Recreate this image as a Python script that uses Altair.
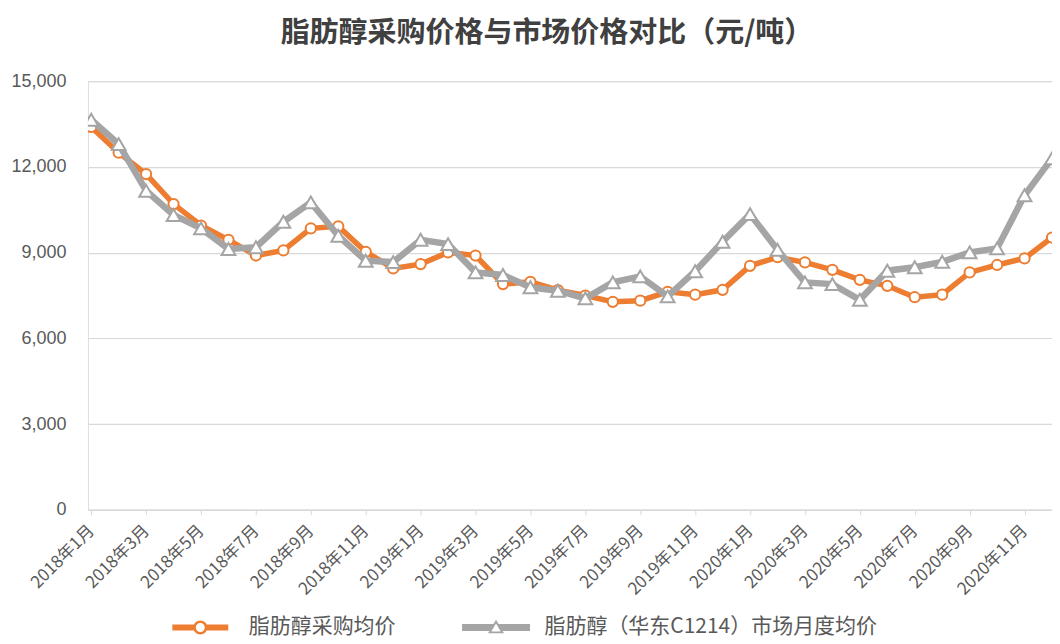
import altair as alt
import pandas as pd

months = [
    "2018年1月", "2018年2月", "2018年3月", "2018年4月", "2018年5月", "2018年6月",
    "2018年7月", "2018年8月", "2018年9月", "2018年10月", "2018年11月", "2018年12月",
    "2019年1月", "2019年2月", "2019年3月", "2019年4月", "2019年5月", "2019年6月",
    "2019年7月", "2019年8月", "2019年9月", "2019年10月", "2019年11月", "2019年12月",
    "2020年1月", "2020年2月", "2020年3月", "2020年4月", "2020年5月", "2020年6月",
    "2020年7月", "2020年8月", "2020年9月", "2020年10月", "2020年11月", "2020年12月",
]
purchase = [
    13400, 12500, 11750, 10700, 9950, 9450, 8900, 9080, 9850, 9920, 9030, 8450,
    8600, 9010, 8900, 7900, 7980, 7690, 7500, 7280, 7320, 7630, 7530, 7700,
    8540, 8840, 8660, 8400, 8050, 7840, 7440, 7530, 8310, 8570, 8800, 9530,
]
market = [
    13650, 12800, 11170, 10320, 9850, 9130, 9190, 10080, 10760, 9590, 8720, 8670,
    9450, 9300, 8310, 8220, 7790, 7670, 7400, 7960, 8170, 7470, 8350, 9380,
    10350, 9100, 7960, 7900, 7350, 8370, 8490, 8680, 9010, 9150, 11010, 12300,
]
series_names = ["脂肪醇采购均价", "脂肪醇（华东C1214）市场月度均价"]
colors = ["#ED7D31", "#A5A5A5"]
y_ticks = [0, 3000, 6000, 9000, 12000, 15000]
title_text = "脂肪醇采购价格与市场价格对比（元/吨）"

rows = []
for i, m in enumerate(months):
    rows.append({"idx": i, "month": m, "series": series_names[0], "value": purchase[i]})
    rows.append({"idx": i, "month": m, "series": series_names[1], "value": market[i]})
df = pd.DataFrame(rows)

label_expr = "[" + ",".join("'" + m + "'" for m in months) + "][datum.value]"

CJK = "Noto Sans CJK SC"
GRID = "#D9D9D9"
TXT = "#595959"

# legend symbols: line with open circle / open triangle (custom paths)
P_circle = ("M-2.8,-0.3L-0.6,-0.3L-0.6,0.3L-2.8,0.3Z "
            "M0.6,-0.3L2.8,-0.3L2.8,0.3L0.6,0.3Z "
            "M0,-0.7A0.7,0.7,0,1,1,0,0.7A0.7,0.7,0,1,1,0,-0.7Z "
            "M0,-0.45A0.45,0.45,0,1,0,0,0.45A0.45,0.45,0,1,0,0,-0.45Z")
P_tri = ("M-3.4,-0.35L-0.23,-0.35L-0.63,0.35L-3.4,0.35Z "
         "M3.4,-0.35L3.4,0.35L0.63,0.35L0.23,-0.35Z "
         "M0,-0.78L0.8,0.58L-0.8,0.58Z "
         "M0,-0.4L-0.47,0.4L0.47,0.4Z")

x_enc = alt.X(
    "idx:Q",
    scale=alt.Scale(domain=[-0.12, 35], nice=False, zero=False),
    axis=alt.Axis(
        values=list(range(0, 36, 2)),
        labelExpr=label_expr,
        labelAngle=-45,
        labelAlign="right",
        labelBaseline="middle",
        labelFont=CJK,
        labelFontSize=17,
        labelColor=TXT,
        labelPadding=13,
        labelOverlap=False,
        ticks=True,
        tickSize=5,
        tickColor=GRID,
        domainColor=GRID,
        domainWidth=1.5,
        grid=False,
        title=None,
    ),
)
y_enc = alt.Y(
    "value:Q",
    scale=alt.Scale(domain=[0, 15000], nice=False),
    axis=alt.Axis(
        values=y_ticks,
        format=",.0f",
        labelFont="Liberation Sans",
        labelFontSize=18,
        labelColor=TXT,
        labelPadding=22,
        ticks=False,
        domain=False,
        grid=True,
        gridColor=GRID,
        gridWidth=1.2,
        title=None,
    ),
)

legend_props = dict(
    orient="none",
    legendX=102,
    legendY=536,
    direction="horizontal",
    title=None,
    padding=0,
    labelFont=CJK,
    labelFontSize=21,
    labelColor=TXT,
    labelLimit=0,
    labelOffset=38,
    columnPadding=66,
    symbolSize=400,
    symbolStrokeWidth=0,
    symbolOpacity=1,
)

base = alt.Chart(df)

legend_layer = base.transform_filter("false").mark_point(
    filled=True, opacity=1, clip=True
).encode(
    x=x_enc,
    y=y_enc,
    color=alt.Color(
        "series:N",
        scale=alt.Scale(domain=series_names, range=colors),
        legend=alt.Legend(**legend_props),
    ),
    shape=alt.Shape(
        "series:N",
        scale=alt.Scale(domain=series_names, range=[P_circle, P_tri]),
        legend=alt.Legend(**legend_props),
    ),
)

line0 = base.transform_filter(alt.datum.series == series_names[0]).mark_line(
    strokeWidth=5.5, color=colors[0], clip=True
).encode(x=x_enc, y=y_enc)
pts0 = base.transform_filter(alt.datum.series == series_names[0]).mark_point(
    shape="circle", filled=True, fill="white", stroke=colors[0], strokeWidth=2,
    size=105, opacity=1, clip=True
).encode(x=x_enc, y=y_enc)
line1 = base.transform_filter(alt.datum.series == series_names[1]).mark_line(
    strokeWidth=6.5, color=colors[1], clip=True
).encode(x=x_enc, y=y_enc)
pts1 = base.transform_filter(alt.datum.series == series_names[1]).mark_point(
    shape="triangle-up", filled=True, fill="white", stroke=colors[1], strokeWidth=2,
    size=190, opacity=1, clip=True
).encode(x=x_enc, y=y_enc)

chart = alt.layer(legend_layer, line0, pts0, line1, pts1).properties(
    width=965,
    height=429,
    padding={"left": 2, "top": 11, "right": 0, "bottom": 0},
    title=alt.TitleParams(
        title_text,
        font=CJK,
        fontSize=29,
        fontWeight="bold",
        color="#404040",
        anchor="middle",
        dx=-23,
        offset=24,
    ),
).configure_view(stroke=None).configure(background="white")

chart.save("out.html", embed_options={"renderer": "svg", "actions": False})
